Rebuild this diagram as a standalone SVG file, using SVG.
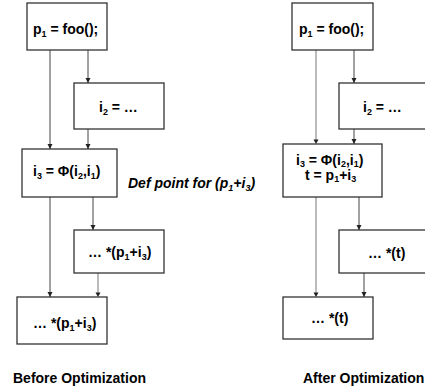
<svg xmlns="http://www.w3.org/2000/svg" width="425" height="389" viewBox="0 0 425 389">
<defs>
<style>
.box{fill:#fff;stroke:#333;stroke-width:1.3}
.t{font-family:"Liberation Sans",Arial,sans-serif;font-weight:bold;font-size:14px;fill:#000}
.e{stroke:#444;stroke-width:1;fill:none}
.g{stroke:#aaa;stroke-width:1.6;fill:none}
.s{font-size:9px}
</style>
<marker id="ah" markerUnits="userSpaceOnUse" markerWidth="6" markerHeight="6" refX="5" refY="3" orient="auto">
<path d="M0,0.5 L5,3 L0,5.5 Z" fill="#222"/>
</marker>
</defs>
<rect width="425" height="389" fill="#fff"/>
<g id="connectors">
<line class="e" x1="50" y1="50" x2="50" y2="149" marker-end="url(#ah)"/>
<line class="e" x1="88" y1="50" x2="88" y2="83" marker-end="url(#ah)"/>
<line class="e" x1="88" y1="129" x2="88" y2="149" marker-end="url(#ah)"/>
<line class="e" x1="50" y1="197" x2="50" y2="297" marker-end="url(#ah)"/>
<line class="e" x1="93" y1="197" x2="93" y2="230" marker-end="url(#ah)"/>
<line class="g" x1="98" y1="273" x2="98" y2="293"/>
<path d="M95.5,292.5 L100.5,292.5 L98,297 Z" fill="#222"/>
<line class="g" x1="316" y1="50" x2="316" y2="140"/>
<path d="M313.5,139.5 L318.5,139.5 L316,144 Z" fill="#222"/>
<line class="e" x1="354" y1="50" x2="354" y2="83" marker-end="url(#ah)"/>
<line class="e" x1="354" y1="129" x2="354" y2="144" marker-end="url(#ah)"/>
<line class="g" x1="316" y1="197" x2="316" y2="293"/>
<path d="M313.5,292.5 L318.5,292.5 L316,297 Z" fill="#222"/>
<line class="e" x1="359" y1="197" x2="359" y2="230" marker-end="url(#ah)"/>
<line class="e" x1="364" y1="273" x2="364" y2="297" marker-end="url(#ah)"/>
</g>
<g id="L_A">
<rect class="box" x="27" y="3" width="80" height="47"/>
<text class="t" x="33" y="34">p<tspan class="s" dy="3">1</tspan><tspan dy="-3"> = foo();</tspan></text>
</g>
<g id="L_B">
<rect class="box" x="74" y="83" width="90" height="46"/>
<text class="t" x="99" y="112">i<tspan class="s" dy="3">2</tspan><tspan dy="-3"> = …</tspan></text>
</g>
<g id="L_C">
<rect class="box" x="22" y="149" width="95" height="48"/>
<text class="t" x="33" y="176">i<tspan class="s" dy="3">3</tspan><tspan dy="-3"> = Φ(i</tspan><tspan class="s" dy="3">2</tspan><tspan dy="-3">,i</tspan><tspan class="s" dy="3">1</tspan><tspan dy="-3">)</tspan></text>
</g>
<g id="L_D">
<rect class="box" x="74" y="230" width="90" height="43"/>
<text class="t" x="88" y="257">… *(p<tspan class="s" dy="3">1</tspan><tspan dy="-3">+i</tspan><tspan class="s" dy="3">3</tspan><tspan dy="-3">)</tspan></text>
</g>
<g id="L_E">
<rect class="box" x="17" y="297" width="90" height="47"/>
<text class="t" x="33" y="328">… *(p<tspan class="s" dy="3">1</tspan><tspan dy="-3">+i</tspan><tspan class="s" dy="3">3</tspan><tspan dy="-3">)</tspan></text>
</g>
<g id="defnote">
<text class="t" x="128" y="188" font-style="italic">Def point for (p<tspan class="s" dy="3">1</tspan><tspan dy="-3">+i</tspan><tspan class="s" dy="3">3</tspan><tspan dy="-3">)</tspan></text>
</g>
<g id="R_A">
<rect class="box" x="292" y="3" width="81" height="47"/>
<text class="t" x="299" y="34">p<tspan class="s" dy="3">1</tspan><tspan dy="-3"> = foo();</tspan></text>
</g>
<g id="R_B">
<rect class="box" x="339" y="83" width="90" height="46"/>
<text class="t" x="363" y="112">i<tspan class="s" dy="3">2</tspan><tspan dy="-3"> = …</tspan></text>
</g>
<g id="R_C">
<rect class="box" x="283" y="144" width="99" height="53"/>
<text class="t" x="296" y="165">i<tspan class="s" dy="2">3</tspan><tspan dy="-2"> = Φ(i</tspan><tspan class="s" dy="2">2</tspan><tspan dy="-2">,i</tspan><tspan class="s" dy="2">1</tspan><tspan dy="-2">)</tspan></text>
<text class="t" x="305" y="180">t = p<tspan class="s" dy="2">1</tspan><tspan dy="-2">+i</tspan><tspan class="s" dy="2">3</tspan></text>
</g>
<g id="R_D">
<rect class="box" x="339" y="230" width="90" height="43"/>
<text class="t" x="368" y="258">… *(t)</text>
</g>
<g id="R_E">
<rect class="box" x="283" y="297" width="90" height="42"/>
<text class="t" x="311" y="323">… *(t)</text>
</g>
<g id="captions">
<text class="t" x="13" y="383">Before Optimization</text>
<text class="t" x="303" y="383">After Optimization</text>
</g>
</svg>
